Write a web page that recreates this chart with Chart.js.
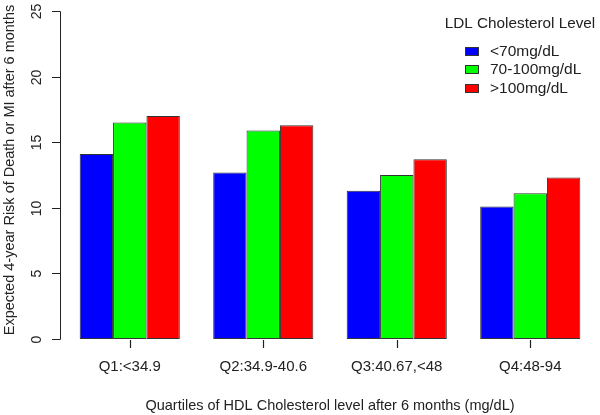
<!DOCTYPE html>
<html><head><meta charset="utf-8">
<script src="https://cdn.jsdelivr.net/npm/chart.js@4/dist/chart.umd.min.js"></script>
<style>html,body{margin:0;padding:0;background:#fff}#wrap{width:600px;height:415px}</style>
</head><body><div id="wrap"><canvas id="c" width="600" height="415"></canvas></div>
<script>
const categories = ["Q1:<34.9", "Q2:34.9-40.6", "Q3:40.67,<48", "Q4:48-94"];
const seriesNames = ["<70mg/dL", "70-100mg/dL", ">100mg/dL"];
const lowLDL = [14.1, 12.7, 11.3, 10.1];
const midLDL = [16.5, 15.9, 12.5, 11.1];
const highLDL = [17.0, 16.3, 13.7, 12.3];
const yTicks = [0, 5, 10, 15, 20, 25];
const colors = ["#0000FF", "#00FF00", "#FF0000"];
const FONT = "'Liberation Sans', Arial, sans-serif";

const rAxes = {
  id: 'rAxes',
  afterDraw(chart) {
    const ctx = chart.ctx, y = chart.scales.y, x = chart.scales.x;
    const ax = 60;
    ctx.save();
    ctx.strokeStyle = '#222'; ctx.lineWidth = 1;
    ctx.beginPath();
    ctx.moveTo(ax + 0.5, Math.round(y.getPixelForValue(yTicks[0])) + 0.5);
    ctx.lineTo(ax + 0.5, Math.round(y.getPixelForValue(yTicks[yTicks.length - 1])) + 0.5);
    ctx.stroke();
    ctx.fillStyle = '#222';
    ctx.font = '14px ' + FONT;
    ctx.textAlign = 'center'; ctx.textBaseline = 'middle';
    yTicks.forEach(v => {
      const py = Math.round(y.getPixelForValue(v)) + 0.5;
      ctx.beginPath(); ctx.moveTo(ax - 8, py); ctx.lineTo(ax + 0.5, py); ctx.stroke();
      ctx.save(); ctx.translate(37, py); ctx.rotate(-Math.PI / 2);
      ctx.fillText(String(v), 0, 0); ctx.restore();
    });
    // x tick marks
    const b = Math.round(y.getPixelForValue(0));
    ctx.strokeStyle = '#222'; ctx.lineWidth = 1.2;
    categories.forEach((c, i) => {
      const px = Math.round(x.getPixelForValue(i)) + 0.5;
      ctx.beginPath(); ctx.moveTo(px, b + 1); ctx.lineTo(px, b + 9); ctx.stroke();
    });
    ctx.lineWidth = 1;
    ctx.save(); ctx.translate(10, 170); ctx.rotate(-Math.PI / 2);
    ctx.font = '14.5px ' + FONT;
    ctx.fillText('Expected 4-year Risk of Death or MI after 6 months', 0, 0);
    ctx.restore();
    // legend
    ctx.font = '15.3px ' + FONT; ctx.textAlign = 'center';
    ctx.fillText('LDL Cholesterol Level', 520, 24);
    ctx.font = '15.5px ' + FONT; ctx.textAlign = 'left';
    chart.data.datasets.forEach((ds, i) => {
      const cy = Math.round(50.5 + i * 18.8);
      ctx.fillStyle = ds.backgroundColor; ctx.strokeStyle = '#333';
      ctx.fillRect(465, cy - 4, 13, 8); ctx.strokeRect(465.5, cy - 3.5, 13, 8);
      ctx.fillStyle = '#222';
      ctx.fillText(ds.label, 490, cy + 0.5);
    });
    ctx.restore();
  }
};

new Chart(document.getElementById('c'), {
  type: 'bar',
  data: {
    labels: categories,
    datasets: [lowLDL, midLDL, highLDL].map((d, i) => ({
      label: seriesNames[i], data: d, backgroundColor: colors[i],
      borderColor: '#333', borderWidth: 1, borderSkipped: false,
      categoryPercentage: 0.75, barPercentage: 1.0
    }))
  },
  options: {
    responsive: false, animation: false, devicePixelRatio: 1,
    layout: { padding: { left: 63, right: 3, top: 11, bottom: 0 } },
    plugins: { legend: { display: false }, tooltip: { enabled: false } },
    scales: {
      y: { display: false, min: 0, max: 25 },
      x: {
        afterFit: (s) => { s.height = 76; },
        border: { display: false },
        grid: { display: false },
        ticks: { color: '#222', font: { family: FONT, size: 15 }, padding: 11, maxRotation: 0 },
        title: { display: true, text: 'Quartiles of HDL Cholesterol level after 6 months (mg/dL)', color: '#222', font: { family: FONT, size: 14.5 }, padding: { top: 10, bottom: 0 } }
      }
    }
  },
  plugins: [rAxes]
});
</script></body></html>
